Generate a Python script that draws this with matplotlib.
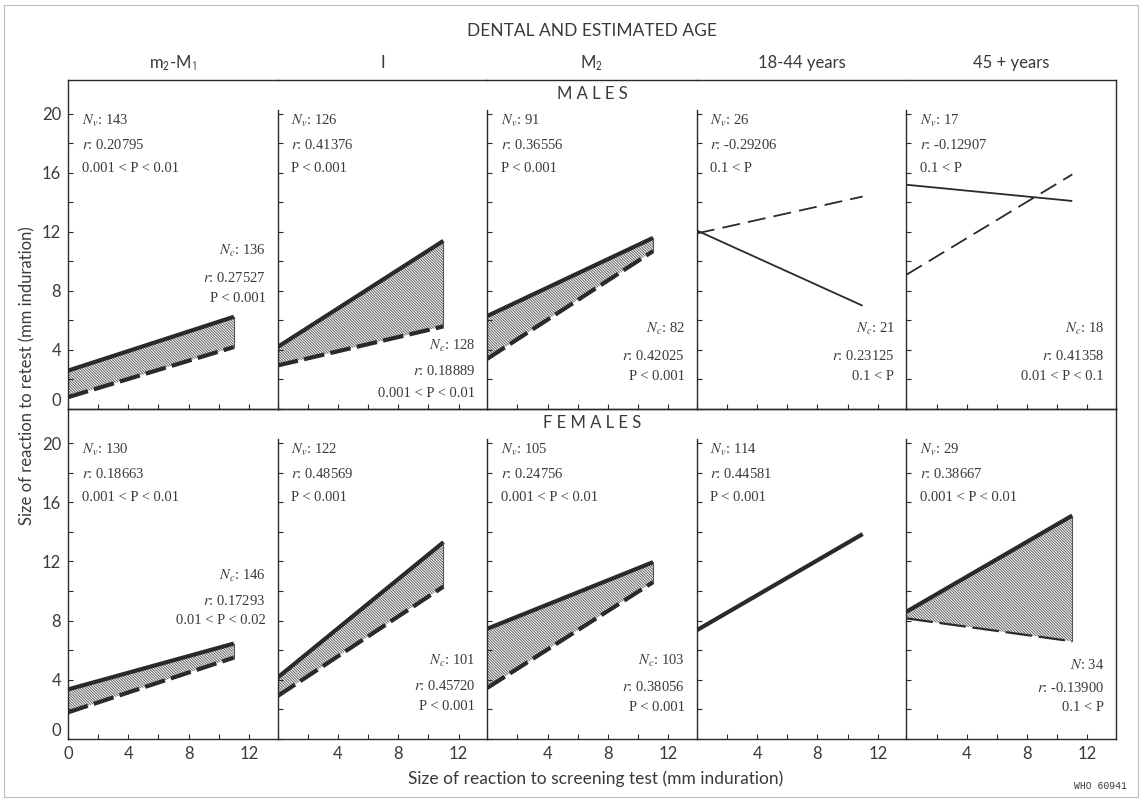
import matplotlib.pyplot as plt
import matplotlib.patches as mpatches

# fonts: sans for axes / headings, serif + stix maths for the statistics
plt.rcParams['font.family'] = ['Lato', 'DejaVu Sans']
plt.rcParams['mathtext.fontset'] = 'stix'
plt.rcParams['hatch.linewidth'] = 0.7

INK = '#2a2a2a'
TXT = '#3a3a3a'

# ---- data ----
columns = [r'm$_\mathsf{2}$-M$_\mathsf{1}$', 'I', r'M$_\mathsf{2}$', '18-44 years', '45 + years']
line_x = [0, 11]

# regression lines: value at x=0 and at x=11 (solid = v, dashed = c)
male_solid = [[2.6, 6.25], [4.2, 11.4], [6.3, 11.6], [12.1, 7.0], [15.2, 14.1]]
male_dashed = [[0.8, 4.2], [2.95, 5.6], [3.4, 10.7], [11.9, 14.4], [9.1, 15.9]]
female_solid = [[3.35, 6.45], [4.15, 13.3], [7.45, 11.95], [7.35, 13.85], [8.6, 15.1]]
female_dashed = [[1.8, 5.5], [2.9, 10.3], [3.45, 10.6], None, [8.15, 6.6]]

male_nv = ['143', '126', '91', '26', '17']
male_rv = ['0.20795', '0.41376', '0.36556', '-0.29206', '-0.12907']
male_pv = ['0.001 < P < 0.01', 'P < 0.001', 'P < 0.001', '0.1 < P', '0.1 < P']
male_nc = ['136', '128', '82', '21', '18']
male_rc = ['0.27527', '0.18889', '0.42025', '0.23125', '0.41358']
male_pc = ['P < 0.001', '0.001 < P < 0.01', 'P < 0.001', '0.1 < P', '0.01 < P < 0.1']

female_nv = ['130', '122', '105', '114', '29']
female_rv = ['0.18663', '0.48569', '0.24756', '0.44581', '0.38667']
female_pv = ['0.001 < P < 0.01', 'P < 0.001', '0.001 < P < 0.01', 'P < 0.001', '0.001 < P < 0.01']
female_nc = ['146', '101', '103', None, '34']
female_rc = ['0.17293', '0.45720', '0.38056', None, '-0.13900']
female_pc = ['0.01 < P < 0.02', 'P < 0.001', 'P < 0.001', None, '0.1 < P']

# ---- layout (pixels of a 1143x800 canvas) ----
W, H = 1143, 800
PANEL_W = 209.6
panel_left = [68 + i * PANEL_W for i in range(5)]
XMAX, YMAX = 13.9, 22.3
male_style = ['band', 'band', 'band', 'thin', 'thin']
female_style = ['band', 'band', 'band', 'single', 'band2']
# heights of the lower-right statistics block
male_low = [(10.7, 8.9, 7.5), (4.3, 2.6, 1.05), (5.4, 3.6, 2.2), (5.4, 3.6, 2.2), (5.4, 3.6, 2.2)]
female_low = [(11.0, 9.3, 8.0), (5.3, 3.6, 2.2), (5.3, 3.5, 2.1), None, (5.0, 3.45, 2.1)]


def stat_block(ax, x, ys, ha, lines):
    for y, s in zip(ys, lines):
        ax.text(x, y, s, ha=ha, va='center', fontsize=10.5,
                family=['Liberation Serif', 'DejaVu Serif'], color=TXT)


def draw_panel(ax, solid, dashed, style):
    if style == 'thin':
        ax.plot(line_x, solid, color=INK, lw=1.3, solid_capstyle='butt')
        ax.plot(line_x, dashed, color=INK, lw=1.3, dashes=(10, 4.5))
    elif style == 'single':
        ax.plot(line_x, solid, color=INK, lw=3.0, solid_capstyle='butt')
    else:
        # hatched band between the two regression lines
        ax.fill_between(line_x, solid, dashed, facecolor='none', edgecolor='#606060',
                        hatch='\\' * 12, linewidth=0)
        ax.plot(line_x, solid, color=INK, lw=3.0, solid_capstyle='butt')
        if style == 'band2':
            ax.plot(line_x, dashed, color=INK, lw=1.6, dashes=(12, 3))
        else:
            ax.plot(line_x, dashed, color=INK, lw=3.0, dashes=(5, 1.5))
        ax.plot([line_x[1], line_x[1]], [solid[1], dashed[1]], color='#555555', lw=0.8)


def make_row(top, bottom, solids, dashes, styles, nv, rv, pv, nc, rc, pc, low, nc_prefix, last_row):
    for i in range(5):
        ax = fig.add_axes([panel_left[i] / W, 1 - bottom / H, PANEL_W / W, (bottom - top) / H])
        ax.set_xlim(0, XMAX)
        ax.set_ylim(0, YMAX)
        ax.patch.set_alpha(0)
        for s in ax.spines.values():
            s.set_color(INK)
            s.set_linewidth(1.0)
        ax.spines['right'].set_visible(i == 4)
        if i > 0:
            ax.spines['left'].set_bounds(0, 20.3)
        ax.set_xticks(range(0, 13, 2))
        ax.set_yticks(range(0, 21, 2))
        ax.tick_params(direction='in', length=3.5, width=0.8, color=INK, labelcolor=TXT,
                       labelsize=12, pad=5)
        # x labels only on the bottom row
        if last_row:
            ax.set_xticklabels(['0' if (v == 0 and i == 0) else (str(v) if v in (4, 8, 12) else '')
                                for v in range(0, 13, 2)])
        else:
            ax.set_xticklabels([])
        if i == 0:
            ax.set_yticklabels([str(v) if v % 4 == 0 else '' for v in range(0, 21, 2)])
            ax.get_yticklabels()[0].set_va('bottom')
        else:
            ax.set_yticklabels([])

        draw_panel(ax, solids[i], dashes[i], styles[i])
        stat_block(ax, 0.9, (19.5, 17.9, 16.3), 'left',
                   [r'$N_v$: ' + nv[i], r'$r$: ' + rv[i], pv[i]])
        if nc[i] is not None:
            lab = r'$N$: ' if (i == 4 and nc_prefix == 'N') else r'$N_c$: '
            stat_block(ax, 13.1, low[i], 'right', [lab + nc[i], r'$r$: ' + rc[i], pc[i]])


# 1. canvas
fig = plt.figure(figsize=(W / 100, H / 100), dpi=100)
fig.patch.set_facecolor('white')

# 2. panels
make_row(80, 409, male_solid, male_dashed, male_style, male_nv, male_rv, male_pv,
         male_nc, male_rc, male_pc, male_low, 'Nc', False)
make_row(409, 739, female_solid, female_dashed, female_style, female_nv, female_rv, female_pv,
         female_nc, female_rc, female_pc, female_low, 'N', True)

# 3. headings
fig.text(592 / W, 1 - 31 / H, 'DENTAL AND ESTIMATED AGE', ha='center', va='center',
         fontsize=12.5, color=TXT)
for i, c in enumerate(columns):
    fig.text((panel_left[i] + PANEL_W / 2) / W, 1 - 63 / H, c, ha='center', va='center',
             fontsize=12, color=TXT)
fig.text(592 / W, 1 - 94 / H, 'M A L E S', ha='center', va='center', fontsize=12, color=TXT)
fig.text(592 / W, 1 - 423 / H, 'F E M A L E S', ha='center', va='center', fontsize=12, color=TXT)

# 4. axis titles
fig.text(596 / W, 1 - 779 / H, 'Size of reaction to screening test (mm induration)',
         ha='center', va='center', fontsize=12.5, color=TXT)
fig.text(27 / W, 1 - 376 / H, 'Size of reaction to retest (mm induration)',
         ha='center', va='center', rotation=90, fontsize=12, color=TXT)
fig.text(1100 / W, 1 - 786 / H, 'WHO 60941', ha='center', va='center', fontsize=7,
         family='Liberation Mono', color=TXT)

# page edge of the scan
fig.add_artist(mpatches.Rectangle((4 / W, 3 / H), 1134 / W, 792 / H, transform=fig.transFigure,
                                  fill=False, ec='#bbbbbb', lw=0.8))

plt.savefig('out.png', dpi=100)
